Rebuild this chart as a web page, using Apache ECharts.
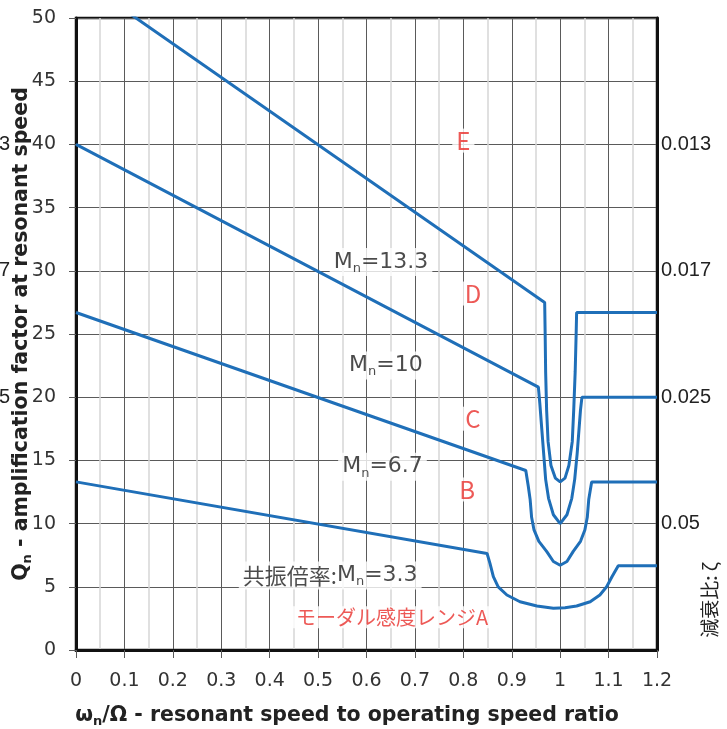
<!DOCTYPE html>
<html>
<head>
<meta charset="utf-8">
<script src="https://cdn.jsdelivr.net/npm/echarts@6/dist/echarts.min.js"></script>
<style>
  html, body { margin: 0; padding: 0; background: #ffffff; }
  #chart { width: 727px; height: 729px; }
</style>
</head>
<body>
<div id="chart"></div>
<script>
// Damping-ratio scale (right side), keyed by the Qn value it sits on
const dampingTicks = [[40, '0.013'], [30, '0.017'], [20, '0.025'], [10, '0.05']];
// Part of the same scale that shows, clipped, at the far left edge
const leftEdgeTicks = [40, 30, 20];

// Qn versus ωn/Ω for each resonance amplification Mn
const curveMn3 = [
  [0, 13.3], [0.849, 7.64], [0.855, 6.85], [0.862, 5.8], [0.872, 5.0], [0.890, 4.35],
  [0.917, 3.82], [0.952, 3.48], [0.986, 3.3], [1.010, 3.35], [1.034, 3.48], [1.062, 3.82],
  [1.082, 4.35], [1.096, 5.0], [1.107, 5.8], [1.120, 6.67], [1.2, 6.67]
];
const curveMn7 = [
  [0, 26.7], [0.929, 14.2], [0.934, 13.0], [0.938, 11.9], [0.941, 10.5], [0.946, 9.5],
  [0.956, 8.6], [0.972, 7.8], [0.986, 7.0], [1.0, 6.7], [1.014, 7.0], [1.027, 7.8],
  [1.042, 8.6], [1.051, 9.5], [1.056, 10.5], [1.059, 11.9], [1.062, 12.6], [1.065, 13.3], [1.2, 13.3]
];
const curveMn10 = [
  [0, 40], [0.955, 20.8], [0.958, 19.5], [0.962, 17.5], [0.966, 15.5], [0.970, 13.5],
  [0.976, 12.0], [0.986, 10.7], [1.0, 10.0], [1.014, 10.7], [1.024, 12.0], [1.030, 13.5],
  [1.035, 15.5], [1.039, 17.5], [1.042, 19.0], [1.045, 20], [1.2, 20]
];
const curveMn13 = [
  [0, 53.3], [0.968, 27.5], [0.969, 25], [0.970, 22], [0.972, 19], [0.975, 16.5],
  [0.981, 14.6], [0.990, 13.6], [1.0, 13.3], [1.010, 13.6], [1.018, 14.6], [1.025, 16.5],
  [1.028, 19], [1.031, 22], [1.033, 25], [1.034, 26.7], [1.2, 26.7]
];

// Modal sensitivity range letters
const rangeLabels = [['E', 0.80, 40.3], ['D', 0.82, 28.2], ['C', 0.82, 18.3], ['B', 0.808, 12.7]];
const rangeTitle = ['モーダル感度レンジA', 0.653, 2.6];

// Mn annotations: prefix, value, position
const mnLabels = [['', '13.3', 0.63, 30.7], ['', '10', 0.64, 22.5], ['', '6.7', 0.633, 14.5], ['共振倍率:', '3.3', 0.525, 5.9]];

const dampingMap = {};
dampingTicks.forEach(([v, t]) => { dampingMap[v] = t; });

const BLUE = '#1f6fb8';
const RED = '#e8302c';
const GRID_DARK = '#5a5a5a';
const INK = '#1e1e1e';

function curveSeries(name, data) {
  return {
    name: name, type: 'line', data: data, showSymbol: false, symbol: 'none',
    lineStyle: { color: BLUE, width: 3 }, z: 3, xAxisIndex: 0, yAxisIndex: 0,
    animation: false
  };
}

const chart = echarts.init(document.getElementById('chart'), null, { renderer: 'canvas' });

chart.setOption({
  animation: false,
  backgroundColor: '#ffffff',
  grid: {
    left: 76, right: 70, top: 18, bottom: 79,
    outerBoundsMode: 'none', containLabel: false,
    show: true, borderColor: '#111', borderWidth: 2.5, backgroundColor: 'transparent'
  },
  xAxis: {
    type: 'value', min: 0, max: 1.2, interval: 0.1,
    axisLine: { show: true, onZero: false, lineStyle: { color: '#111', width: 3 } },
    axisTick: { show: true, length: 8, lineStyle: { color: GRID_DARK } },
    axisLabel: {
      margin: 22, color: '#333', fontSize: 19, fontFamily: 'DejaVu Sans',
      formatter: v => String(Math.round(v * 10) / 10)
    },
    splitLine: { show: true, lineStyle: { color: GRID_DARK, width: 1 } },
    minorTick: { show: false, splitNumber: 2 },
    minorSplitLine: { show: true, lineStyle: { color: '#d6d6d6', width: 1.5 } }
  },
  yAxis: [
    {
      type: 'value', min: 0, max: 50, interval: 5, position: 'left',
      axisLine: { show: true, onZero: false, lineStyle: { color: '#111', width: 3 } },
      axisTick: { show: true, length: 7, lineStyle: { color: GRID_DARK } },
      axisLabel: { margin: 20, color: '#333', fontSize: 19, fontFamily: 'DejaVu Sans' },
      splitLine: { show: true, lineStyle: { color: GRID_DARK, width: 1 } }
    },
    {
      type: 'value', min: 0, max: 50, interval: 5, position: 'right',
      axisLine: { show: true, onZero: false, lineStyle: { color: '#111', width: 3 } },
      axisTick: { show: false },
      axisLabel: {
        margin: 4, color: '#222', fontSize: 20, fontFamily: 'Liberation Sans',
        formatter: v => dampingMap[v] || ''
      },
      splitLine: { show: false }
    },
    {
      // clipped copy of the damping scale at the far left edge
      type: 'value', min: 0, max: 50, interval: 5, position: 'left', offset: 58,
      axisLine: { show: false }, axisTick: { show: false },
      axisLabel: {
        margin: 8, color: '#222', fontSize: 20, fontFamily: 'Liberation Sans',
        formatter: v => (leftEdgeTicks.indexOf(v) >= 0 ? dampingMap[v] : '')
      },
      splitLine: { show: false }
    }
  ],
  series: [
    curveSeries('Mn=3.3', curveMn3),
    curveSeries('Mn=6.7', curveMn7),
    curveSeries('Mn=10', curveMn10),
    curveSeries('Mn=13.3', curveMn13),
    {
      name: 'ranges', type: 'scatter', symbolSize: 0, z: 1, animation: false,
      data: rangeLabels.map(([t, x, y]) => ({ name: t, value: [x, y] })),
      label: {
        show: true, position: 'inside', formatter: p => p.name,
        color: RED, fontSize: 24, fontFamily: 'Noto Sans CJK JP',
        backgroundColor: '#ffffff', padding: [0, 4]
      }
    },
    {
      name: 'rangeTitle', type: 'scatter', symbolSize: 0, z: 1, animation: false,
      data: [{ name: rangeTitle[0], value: [rangeTitle[1], rangeTitle[2]] }],
      label: {
        show: true, position: 'inside', formatter: p => p.name,
        color: RED, fontSize: 20, fontFamily: 'Noto Sans CJK JP',
        backgroundColor: '#ffffff', padding: [1, 4]
      }
    },
    {
      name: 'mn', type: 'scatter', symbolSize: 0, z: 1, animation: false,
      data: mnLabels.map(([pre, v, x, y]) => ({ name: pre + '|' + v, value: [x, y] })),
      label: {
        show: true, position: 'inside',
        formatter: p => {
          const [pre, v] = p.name.split('|');
          return (pre ? '{c|' + pre + '}' : '') + '{m|M}{s|n}{m|=' + v + '}';
        },
        backgroundColor: '#ffffff', padding: [1, 4],
        rich: {
          c: { fontSize: 22, lineHeight: 26, color: INK, fontFamily: 'Noto Sans CJK JP' },
          m: { fontSize: 22, lineHeight: 26, color: INK, fontFamily: 'DejaVu Sans' },
          s: { fontSize: 13, lineHeight: 13, verticalAlign: 'bottom', color: INK, fontFamily: 'DejaVu Sans' }
        }
      }
    }
  ],
  graphic: [
    {
      type: 'text', x: 347, y: 716, z: 10,
      style: {
        text: '{b|ω}{s|n}{b|/Ω - resonant speed to operating speed ratio}',
        textAlign: 'center', textVerticalAlign: 'middle',
        rich: {
          b: { fontSize: 20.5, fontWeight: 'bold', fontFamily: 'DejaVu Sans', fill: '#222', lineHeight: 24 },
          s: { fontSize: 13, fontWeight: 'bold', fontFamily: 'DejaVu Sans', fill: '#222', lineHeight: 13, verticalAlign: 'bottom' }
        }
      }
    },
    {
      type: 'text', x: 22, y: 334, rotation: Math.PI / 2, z: 10,
      style: {
        text: '{b|Q}{s|n}{b| - amplification factor at resonant speed}',
        textAlign: 'center', textVerticalAlign: 'middle',
        rich: {
          b: { fontSize: 20.5, fontWeight: 'bold', fontFamily: 'DejaVu Sans', fill: '#222', lineHeight: 24 },
          s: { fontSize: 13, fontWeight: 'bold', fontFamily: 'DejaVu Sans', fill: '#222', lineHeight: 13, verticalAlign: 'bottom' }
        }
      }
    },
    {
      type: 'text', x: 710, y: 600, rotation: Math.PI / 2, z: 10,
      style: {
        text: '減衰比: ζ', fill: '#222',
        font: '19px "Noto Sans CJK JP"',
        textAlign: 'center', textVerticalAlign: 'middle'
      }
    }
  ]
});
</script>
</body>
</html>
